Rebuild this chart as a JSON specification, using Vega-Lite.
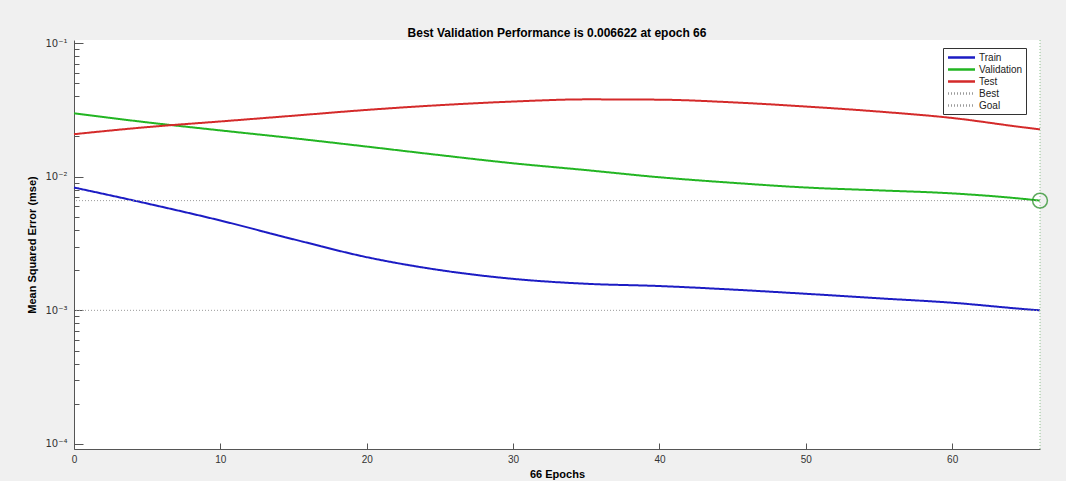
{
  "$schema": "https://vega.github.io/schema/vega-lite/v6.json",
  "width": 966,
  "height": 409,
  "autosize": {"type": "none"},
  "padding": {"left": 74, "top": 40, "right": 26, "bottom": 32},
  "background": "#f0f0f0",
  "config": {"view": {"fill": "white", "stroke": null}, "font": "Liberation Sans"},
  "title": {"text": "Best Validation Performance is 0.006622 at epoch 66", "fontSize": 12, "fontWeight": "bold", "color": "black", "offset": -2, "anchor": "middle"},
  "datasets": {
    "curves": [
      {"epoch": 0, "mse": 0.0083, "series": "Train"},
      {"epoch": 5, "mse": 0.0063, "series": "Train"},
      {"epoch": 10, "mse": 0.0047, "series": "Train"},
      {"epoch": 15, "mse": 0.0034, "series": "Train"},
      {"epoch": 20, "mse": 0.0025, "series": "Train"},
      {"epoch": 25, "mse": 0.0020, "series": "Train"},
      {"epoch": 30, "mse": 0.00172, "series": "Train"},
      {"epoch": 35, "mse": 0.00158, "series": "Train"},
      {"epoch": 40, "mse": 0.00152, "series": "Train"},
      {"epoch": 45, "mse": 0.00143, "series": "Train"},
      {"epoch": 50, "mse": 0.00133, "series": "Train"},
      {"epoch": 55, "mse": 0.00123, "series": "Train"},
      {"epoch": 60, "mse": 0.00114, "series": "Train"},
      {"epoch": 65, "mse": 0.00102, "series": "Train"},
      {"epoch": 66, "mse": 0.00100, "series": "Train"},
      {"epoch": 0, "mse": 0.0298, "series": "Validation"},
      {"epoch": 5, "mse": 0.0255, "series": "Validation"},
      {"epoch": 10, "mse": 0.0222, "series": "Validation"},
      {"epoch": 15, "mse": 0.0194, "series": "Validation"},
      {"epoch": 20, "mse": 0.0168, "series": "Validation"},
      {"epoch": 25, "mse": 0.0145, "series": "Validation"},
      {"epoch": 30, "mse": 0.0126, "series": "Validation"},
      {"epoch": 35, "mse": 0.0112, "series": "Validation"},
      {"epoch": 40, "mse": 0.0099, "series": "Validation"},
      {"epoch": 45, "mse": 0.0090, "series": "Validation"},
      {"epoch": 50, "mse": 0.0083, "series": "Validation"},
      {"epoch": 55, "mse": 0.0079, "series": "Validation"},
      {"epoch": 60, "mse": 0.0075, "series": "Validation"},
      {"epoch": 65, "mse": 0.0068, "series": "Validation"},
      {"epoch": 66, "mse": 0.006622, "series": "Validation"},
      {"epoch": 0, "mse": 0.0208, "series": "Test"},
      {"epoch": 5, "mse": 0.0235, "series": "Test"},
      {"epoch": 10, "mse": 0.0259, "series": "Test"},
      {"epoch": 15, "mse": 0.0286, "series": "Test"},
      {"epoch": 20, "mse": 0.0316, "series": "Test"},
      {"epoch": 25, "mse": 0.0343, "series": "Test"},
      {"epoch": 30, "mse": 0.0365, "series": "Test"},
      {"epoch": 35, "mse": 0.0379, "series": "Test"},
      {"epoch": 40, "mse": 0.0377, "series": "Test"},
      {"epoch": 45, "mse": 0.0360, "series": "Test"},
      {"epoch": 50, "mse": 0.0335, "series": "Test"},
      {"epoch": 55, "mse": 0.0307, "series": "Test"},
      {"epoch": 60, "mse": 0.0275, "series": "Test"},
      {"epoch": 65, "mse": 0.0233, "series": "Test"},
      {"epoch": 66, "mse": 0.0226, "series": "Test"}
    ],
    "refs": [
      {"series": "Best", "mse": 0.006622},
      {"series": "Goal", "mse": 0.001}
    ],
    "best": [
      {"epoch": 66, "mse": 0.006622}
    ]
  },
  "layer": [
    {
      "data": {"name": "curves"},
      "mark": {"type": "line", "strokeWidth": 2, "interpolate": "monotone"},
      "encoding": {
        "x": {
          "field": "epoch", "type": "quantitative",
          "scale": {"domain": [0, 66], "nice": false, "zero": false},
          "axis": {
            "title": "66 Epochs", "titleFontWeight": "bold", "titleFontSize": 11, "titleColor": "black", "titlePadding": 4,
            "values": [0, 10, 20, 30, 40, 50, 60], "grid": false,
            "labelFontSize": 10, "labelColor": "#333", "labelPadding": 11,
            "tickSize": -6, "tickColor": "#555", "domainColor": "#555", "labelFlush": false
          }
        },
        "y": {
          "field": "mse", "type": "quantitative",
          "scale": {"type": "log", "domain": [0.0000917, 0.1054], "nice": false},
          "axis": {
            "title": "Mean Squared Error  (mse)", "titleFontWeight": "bold", "titleFontSize": 11, "titleColor": "black", "titlePadding": 7,
            "values": [0.0001, 0.0002, 0.0003, 0.0004, 0.0005, 0.0006, 0.0007, 0.0008, 0.0009, 0.001, 0.002, 0.003, 0.004, 0.005, 0.006, 0.007, 0.008, 0.009, 0.01, 0.02, 0.03, 0.04, 0.05, 0.06, 0.07, 0.08, 0.09, 0.1],
            "labelExpr": "abs(log(datum.value)/LN10 - round(log(datum.value)/LN10)) > 0.01 ? '' : (round(log(datum.value)/LN10) == -1 ? '10⁻¹' : round(log(datum.value)/LN10) == -2 ? '10⁻²' : round(log(datum.value)/LN10) == -3 ? '10⁻³' : '10⁻⁴')",
            "grid": false, "labelFont": "DejaVu Sans", "labelFontSize": 10, "labelColor": "#333", "labelPadding": 16, "labelFlush": false,
            "tickSize": {"condition": {"test": "abs(log(datum.value)/LN10 - round(log(datum.value)/LN10)) < 0.01", "value": -9}, "value": -5},
            "tickColor": "#555", "domainColor": "#555"
          }
        },
        "color": {
          "field": "series", "type": "nominal",
          "scale": {"domain": ["Train", "Validation", "Test", "Best", "Goal"], "range": ["#1c1cc4", "#22b522", "#d42a2a", "#9a9a9a", "#9a9a9a"]},
          "legend": {
            "title": null, "orient": "none", "legendX": 869, "legendY": 8,
            "fillColor": "white", "strokeColor": "#333", "padding": 3,
            "symbolType": "M-2.7,0H2.7", "symbolSize": 100, "symbolStrokeWidth": 2.5, "symbolOffset": 9,
            "labelFontSize": 10, "labelColor": "#222", "labelOffset": 11, "rowPadding": 0
          }
        },
        "strokeDash": {
          "field": "series", "type": "nominal",
          "scale": {"domain": ["Train", "Validation", "Test", "Best", "Goal"], "range": [[1, 0], [1, 0], [1, 0], [1, 2], [1, 2]]},
          "legend": {
            "title": null, "orient": "none", "legendX": 869, "legendY": 8,
            "fillColor": "white", "strokeColor": "#333", "padding": 3,
            "symbolType": "M-2.7,0H2.7", "symbolSize": 100, "symbolStrokeWidth": 2.5, "symbolOffset": 9,
            "labelFontSize": 10, "labelColor": "#222", "labelOffset": 11, "rowPadding": 0
          }
        }
      }
    },
    {
      "data": {"name": "refs"},
      "mark": {"type": "rule", "strokeWidth": 1},
      "encoding": {
        "y": {"field": "mse", "type": "quantitative"},
        "color": {"field": "series", "type": "nominal"},
        "strokeDash": {"field": "series", "type": "nominal"}
      }
    },
    {
      "data": {"name": "best"},
      "mark": {"type": "rule", "strokeWidth": 1, "color": "#8cc08c", "strokeDash": [1, 2]},
      "encoding": {
        "x": {"field": "epoch", "type": "quantitative"}
      }
    },
    {
      "data": {"name": "best"},
      "mark": {"type": "point", "shape": "circle", "filled": false, "size": 220, "color": "#1e8a1e", "strokeWidth": 1.5, "clip": false},
      "encoding": {
        "x": {"field": "epoch", "type": "quantitative"},
        "y": {"field": "mse", "type": "quantitative"}
      }
    }
  ]
}
